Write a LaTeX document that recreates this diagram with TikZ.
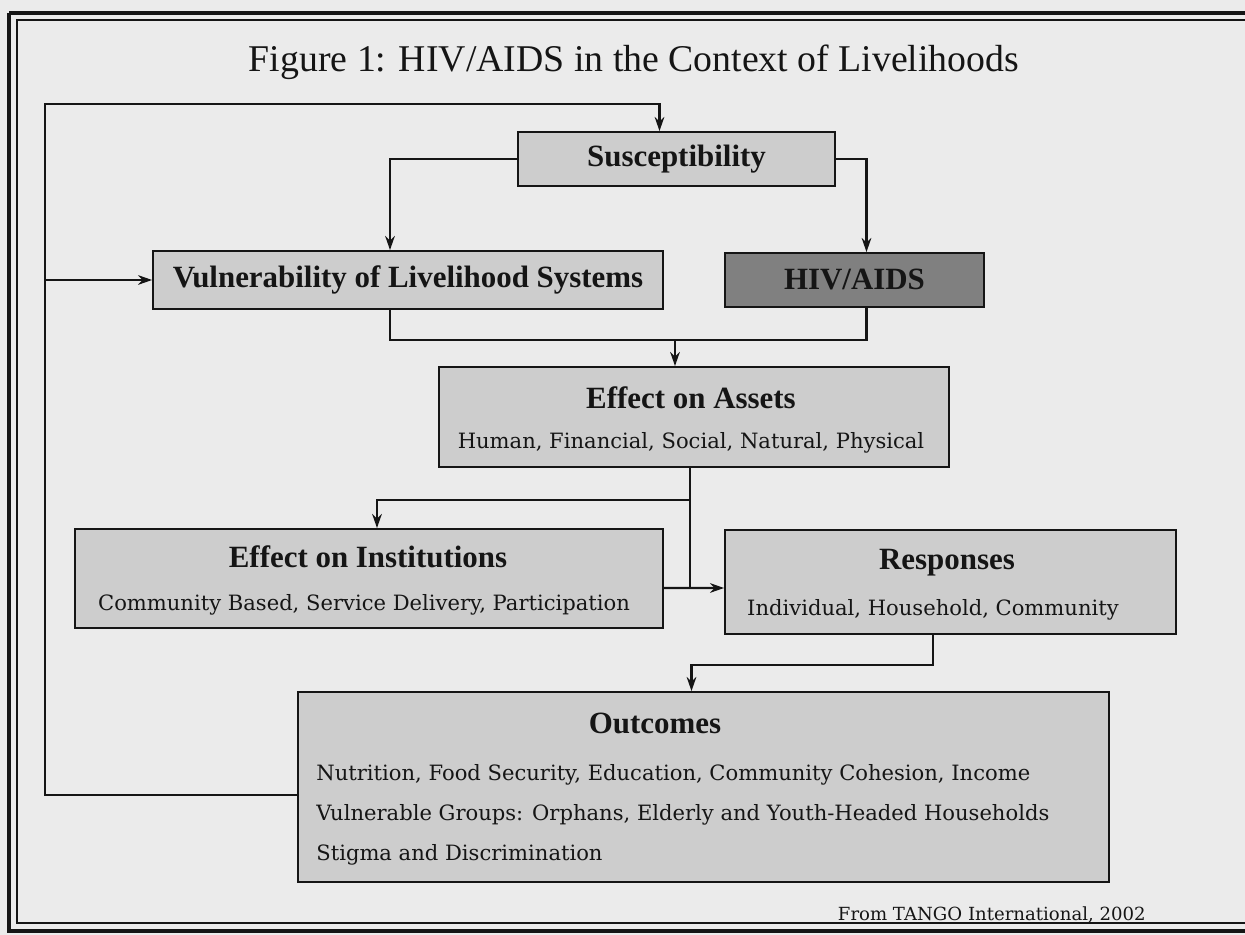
\documentclass[tikz,border=0pt]{standalone}
\usepackage{fontspec}
\setmainfont{Liberation Serif}
\newfontfamily\wide{DejaVu Serif}
\usetikzlibrary{arrows.meta,calc}
\definecolor{bg}{HTML}{EBEBEB}
\definecolor{boxfill}{HTML}{CDCDCD}
\definecolor{darkfill}{HTML}{808080}
\definecolor{ink}{HTML}{151515}
\tikzset{
  box/.style={draw=ink, line width=1.1pt, fill=boxfill, inner sep=0pt, anchor=center},
  con/.style={draw=ink, line width=1.2pt},
  arr/.style={con, -{Stealth[length=8pt,width=5.5pt]}},
  ttl/.style={font=\fontsize{17.6}{20}\selectfont\bfseries, text=ink, inner sep=0pt},
  sub/.style={font=\wide\fontsize{12}{14}\selectfont, text=ink, inner sep=0pt},
}
\begin{document}
\begin{tikzpicture}[x=0.02cm,y=-0.02cm]
\useasboundingbox[fill=bg] (0,0) rectangle (1245,935);
% frame (its right side lies outside the picture)
\begin{scope}
\clip (0,0) rectangle (1245,935);
\draw[ink, line width=2.4pt] (9,13) -- (1260,13);
\draw[ink, line width=2.4pt] (9,13) -- (9,931) -- (1260,931);
\draw[ink, line width=0.7pt] (1260,20) -- (17,20) -- (17,923) -- (1260,923);
\end{scope}
% title
\node[font=\fontsize{21.5}{25}\selectfont, text=ink, inner sep=0pt] (title) at (634,62) {Figure 1: HIV/AIDS in the Context of Livelihoods};
% boxes
\node[box, minimum width=6.34cm, minimum height=1.08cm] (sus) at (676.5,159) {};
\node[ttl] (sust) at (sus) {Susceptibility};
\node[box, minimum width=10.2cm, minimum height=1.16cm] (vul) at (408,280) {};
\node[ttl] (vult) at (vul) {Vulnerability of Livelihood Systems};
\node[box, fill=darkfill, minimum width=5.18cm, minimum height=1.08cm] (hiv) at (854.5,280) {};
\node[ttl] (hivt) at (hiv) {HIV/AIDS};
\node[box, minimum width=10.2cm, minimum height=2cm] (assets) at (694,417) {};
\node[ttl] (assetst) at (691,398) {Effect on Assets};
\node[sub] (assetss) at (691,443) {Human, Financial, Social, Natural, Physical};
\node[box, minimum width=11.76cm, minimum height=1.98cm] (inst) at (369,578.5) {};
\node[ttl] (instt) at (368,557) {Effect on Institutions};
\node[sub] (insts) at (364,605) {Community Based, Service Delivery, Participation};
\node[box, minimum width=9.02cm, minimum height=2.08cm] (resp) at (950.5,582) {};
\node[ttl] (respt) at (947,563) {Responses};
\node[sub] (resps) at (933,610) {Individual, Household, Community};
\node[box, minimum width=16.22cm, minimum height=3.8cm] (out) at (703.5,787) {};
\node[ttl] (outt) at (655,723) {Outcomes};
\node[sub, anchor=west] (out1) at (316,775) {Nutrition, Food Security, Education, Community Cohesion, Income};
\node[sub, anchor=west] (out2) at (316,815) {Vulnerable Groups: Orphans, Elderly and Youth-Headed Households};
\node[sub, anchor=west] (out3) at (316,855) {Stigma and Discrimination};
\node[font=\wide\fontsize{10.3}{12}\selectfont, text=ink, inner sep=0pt, anchor=east] (credit) at (1146,915) {From TANGO International, 2002};
% connectors
\coordinate (ltop) at (45,104);
\coordinate (lbot) at (45,795);
\coordinate (lmid) at (45,280);
\draw[arr] ($(out.west)+(0,8)$) -- (lbot) -- (ltop) -| ($(sus.north)+(-17,0)$);
\draw[arr] (lmid) -- (vul.west);
\draw[arr] (sus.west) -| ($(vul.north)+(-18,0)$);
\draw[arr] (sus.east) -| ($(hiv.north)+(12,0)$);
\coordinate (j) at (675,340);
\draw[con] ($(vul.south)+(-18,0)$) |- (j) -| ($(hiv.south)+(12,0)$);
\draw[arr] (j) -- (j |- assets.north);
\coordinate (k) at (690,500);
\coordinate (m) at (690,588);
\draw[con] (k |- assets.south) -- (m);
\draw[arr] (k) -| ($(inst.north)+(8,0)$);
\draw[arr] ($(inst.east)+(0,9.5)$) -- ($(resp.west)+(0,6)$);
\coordinate (r) at (933,665);
\draw[arr] (r |- resp.south) -- (r) -| ($(out.north)+(-12,0)$);
\end{tikzpicture}
\end{document}
